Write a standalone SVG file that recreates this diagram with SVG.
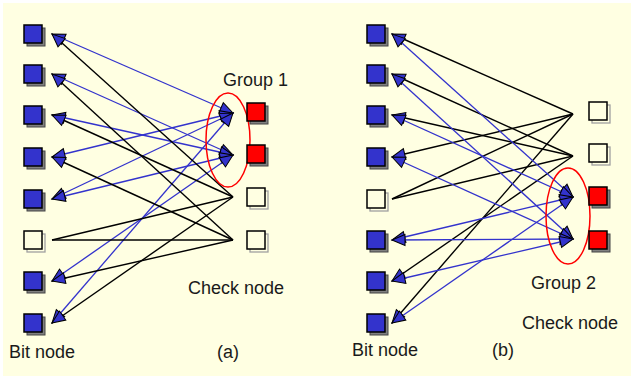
<svg xmlns="http://www.w3.org/2000/svg" width="631" height="379" viewBox="0 0 631 379">
<defs>
<marker id="ah" markerUnits="userSpaceOnUse" markerWidth="16" markerHeight="14" viewBox="-15 -7 16 14" refX="0" refY="0" orient="auto-start-reverse" overflow="visible">
<path d="M0,0 L-13,-5.5 L-13,5.5 Z" fill="#3333CC" stroke="#000" stroke-width="1" stroke-linejoin="miter"/>
</marker>
</defs>
<style>
.bg{fill:#FFFFE2}
.sh{fill:#808080;stroke:#444;stroke-width:1}
.shw{fill:#FFFFE2;stroke:#A0A0A0;stroke-width:1.3}
.bit{fill:#3333CC;stroke:#000;stroke-width:1.5}
.red{fill:#FF0000;stroke:#000;stroke-width:1.5}
.wht{fill:#FFFFE2;stroke:#000;stroke-width:1.5}
.bl{stroke:#3333CC;stroke-width:1.3;fill:none}
.bk{stroke:#000;stroke-width:1.4;fill:none}
.arr{marker-end:url(#ah)}
.arr2{marker-start:url(#ah);marker-end:url(#ah)}
.grp{fill:none;stroke:#FF0000;stroke-width:1.5}
text{font-family:"Liberation Sans",Arial,sans-serif;font-size:18px;fill:#1a1a1a}
</style>
<rect class="bg" x="3" y="3" width="628" height="373"/>

<g id="connectors-a">
<line class="bl arr2" x1="233" y1="113" x2="52" y2="34"/>
<line class="bl arr2" x1="233" y1="113" x2="52" y2="157"/>
<line class="bl arr2" x1="233" y1="113" x2="52" y2="199"/>
<line class="bl arr2" x1="233" y1="113" x2="52" y2="323"/>
<line class="bl arr2" x1="233" y1="155" x2="52" y2="74"/>
<line class="bl arr2" x1="233" y1="155" x2="52" y2="115"/>
<line class="bl arr2" x1="233" y1="155" x2="52" y2="199"/>
<line class="bl arr2" x1="233" y1="155" x2="52" y2="281"/>
<line class="bk arr" x1="233" y1="197" x2="52" y2="34"/>
<line class="bk arr" x1="233" y1="197" x2="52" y2="115"/>
<line class="bk" x1="233" y1="197" x2="52" y2="240"/>
<line class="bk arr" x1="233" y1="197" x2="52" y2="323"/>
<line class="bk arr" x1="233" y1="240" x2="52" y2="74"/>
<line class="bk arr" x1="233" y1="240" x2="52" y2="157"/>
<line class="bk" x1="233" y1="240" x2="52" y2="240"/>
<line class="bk arr" x1="233" y1="240" x2="52" y2="281"/>
</g>

<g id="connectors-b">
<line class="bk arr" x1="573" y1="114" x2="392" y2="34"/>
<line class="bk arr" x1="573" y1="114" x2="392" y2="157"/>
<line class="bk" x1="573" y1="114" x2="392" y2="199"/>
<line class="bk arr" x1="573" y1="114" x2="392" y2="323"/>
<line class="bk arr" x1="573" y1="156" x2="392" y2="74"/>
<line class="bk arr" x1="573" y1="156" x2="392" y2="115"/>
<line class="bk" x1="573" y1="156" x2="392" y2="199"/>
<line class="bk arr" x1="573" y1="156" x2="392" y2="281"/>
<line class="bl arr2" x1="573" y1="197" x2="392" y2="34"/>
<line class="bl arr2" x1="573" y1="197" x2="392" y2="115"/>
<line class="bl arr2" x1="573" y1="197" x2="392" y2="240"/>
<line class="bl arr2" x1="573" y1="197" x2="392" y2="323"/>
<line class="bl arr2" x1="573" y1="239" x2="392" y2="74"/>
<line class="bl arr2" x1="573" y1="239" x2="392" y2="157"/>
<line class="bl arr2" x1="573" y1="239" x2="392" y2="240"/>
<line class="bl arr2" x1="573" y1="239" x2="392" y2="281"/>
</g>

<g id="group1"><ellipse class="grp" cx="228" cy="140" rx="22" ry="47"/><text x="223" y="86">Group 1</text></g>
<g id="group2"><ellipse class="grp" cx="568" cy="216" rx="22" ry="48"/><text x="531" y="289">Group 2</text></g>

<g id="a-bit1"><rect class="sh" x="27" y="28" width="18" height="18"/><rect class="bit" x="24" y="25" width="18" height="18"/></g>
<g id="a-bit2"><rect class="sh" x="27" y="68" width="18" height="18"/><rect class="bit" x="24" y="65" width="18" height="18"/></g>
<g id="a-bit3"><rect class="sh" x="27" y="109" width="18" height="18"/><rect class="bit" x="24" y="106" width="18" height="18"/></g>
<g id="a-bit4"><rect class="sh" x="27" y="151" width="18" height="18"/><rect class="bit" x="24" y="148" width="18" height="18"/></g>
<g id="a-bit5"><rect class="sh" x="27" y="193" width="18" height="18"/><rect class="bit" x="24" y="190" width="18" height="18"/></g>
<g id="a-bit6"><rect class="shw" x="27" y="234" width="18" height="18"/><rect class="wht" x="24" y="231" width="18" height="18"/></g>
<g id="a-bit7"><rect class="sh" x="27" y="275" width="18" height="18"/><rect class="bit" x="24" y="272" width="18" height="18"/></g>
<g id="a-bit8"><rect class="sh" x="27" y="317" width="18" height="18"/><rect class="bit" x="24" y="314" width="18" height="18"/></g>

<g id="a-chk1"><rect class="sh" x="250" y="106" width="18" height="18"/><rect class="red" x="247" y="103" width="18" height="18"/></g>
<g id="a-chk2"><rect class="sh" x="250" y="148" width="18" height="18"/><rect class="red" x="247" y="145" width="18" height="18"/></g>
<g id="a-chk3"><rect class="shw" x="250" y="191" width="18" height="18"/><rect class="wht" x="247" y="188" width="18" height="18"/></g>
<g id="a-chk4"><rect class="shw" x="250" y="234" width="18" height="18"/><rect class="wht" x="247" y="231" width="18" height="18"/></g>

<g id="b-bit1"><rect class="sh" x="370" y="28" width="18" height="18"/><rect class="bit" x="367" y="25" width="18" height="18"/></g>
<g id="b-bit2"><rect class="sh" x="370" y="68" width="18" height="18"/><rect class="bit" x="367" y="65" width="18" height="18"/></g>
<g id="b-bit3"><rect class="sh" x="370" y="109" width="18" height="18"/><rect class="bit" x="367" y="106" width="18" height="18"/></g>
<g id="b-bit4"><rect class="sh" x="370" y="151" width="18" height="18"/><rect class="bit" x="367" y="148" width="18" height="18"/></g>
<g id="b-bit5"><rect class="shw" x="370" y="193" width="18" height="18"/><rect class="wht" x="367" y="190" width="18" height="18"/></g>
<g id="b-bit6"><rect class="sh" x="370" y="234" width="18" height="18"/><rect class="bit" x="367" y="231" width="18" height="18"/></g>
<g id="b-bit7"><rect class="sh" x="370" y="275" width="18" height="18"/><rect class="bit" x="367" y="272" width="18" height="18"/></g>
<g id="b-bit8"><rect class="sh" x="370" y="317" width="18" height="18"/><rect class="bit" x="367" y="314" width="18" height="18"/></g>

<g id="b-chk1"><rect class="shw" x="592" y="105" width="18" height="18"/><rect class="wht" x="589" y="102" width="18" height="18"/></g>
<g id="b-chk2"><rect class="shw" x="592" y="147" width="18" height="18"/><rect class="wht" x="589" y="144" width="18" height="18"/></g>
<g id="b-chk3"><rect class="sh" x="592" y="190" width="18" height="18"/><rect class="red" x="589" y="187" width="18" height="18"/></g>
<g id="b-chk4"><rect class="sh" x="592" y="234" width="18" height="18"/><rect class="red" x="589" y="231" width="18" height="18"/></g>

<g id="labels">
<text x="188" y="294">Check node</text>
<text x="9" y="358">Bit node</text>
<text x="217" y="358">(a)</text>
<text x="522" y="329">Check node</text>
<text x="352" y="356">Bit node</text>
<text x="492" y="356">(b)</text>
</g>
</svg>
